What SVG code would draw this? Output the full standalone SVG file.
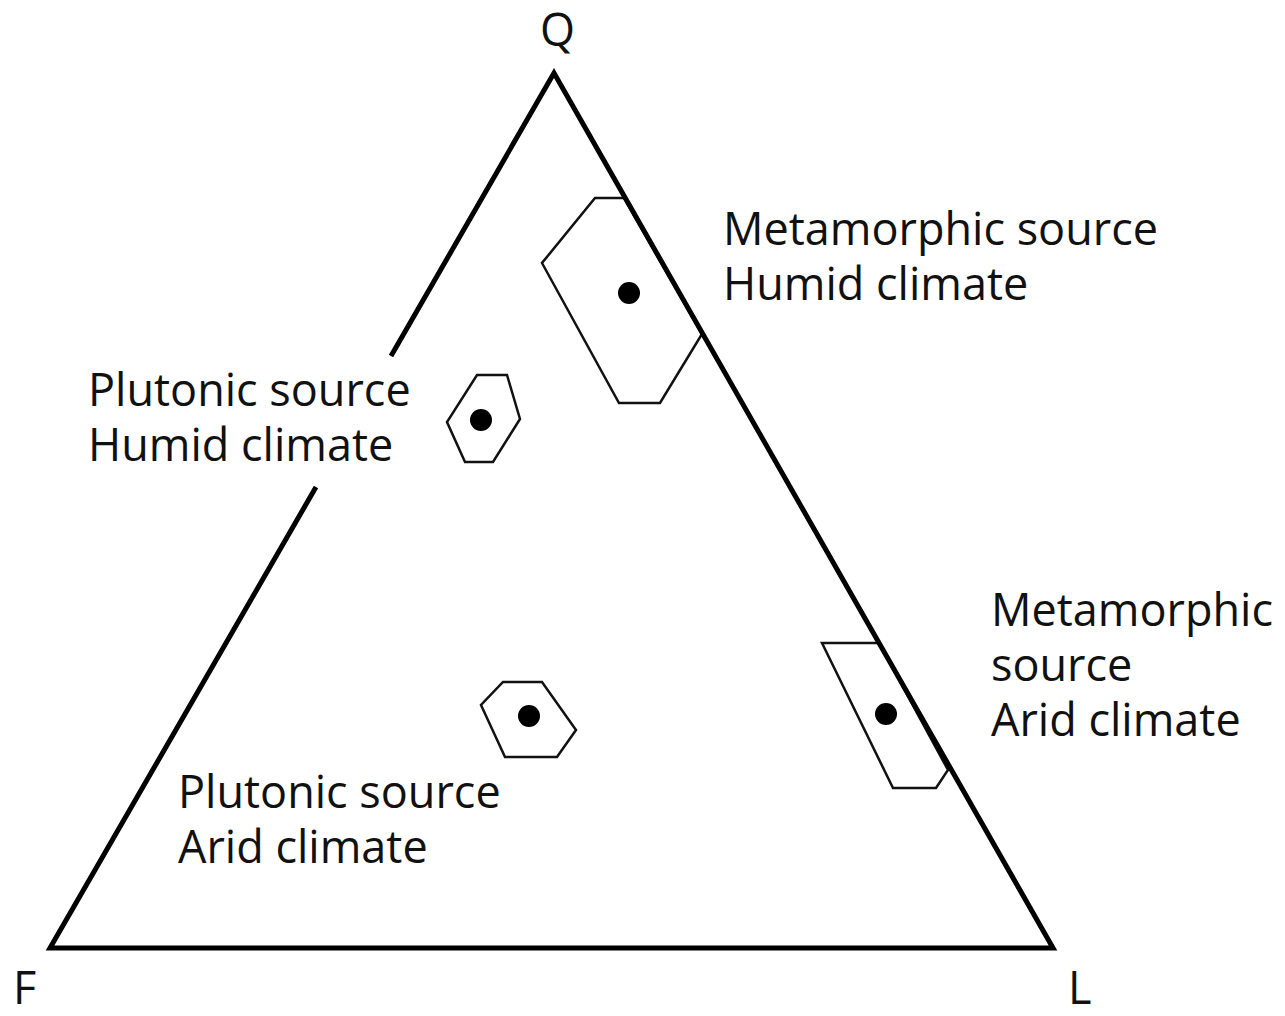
<svg xmlns="http://www.w3.org/2000/svg" width="1285" height="1016" viewBox="0 0 1285 1016">
  <style>
    .lbl { font-family: "Open Sans", "Noto Sans", "Liberation Sans", sans-serif; font-size: 45px; fill: #111; }
    .field { fill: none; stroke: #111; stroke-width: 2.5; stroke-linejoin: miter; }
    .dot { fill: #000; }
    .frame { fill: none; stroke: #000; stroke-width: 5; stroke-linejoin: miter; }
  </style>
  <rect width="1285" height="1016" fill="#fff"/>

  <!-- provenance fields -->
  <g id="meta-humid">
    <polygon class="field" points="595,198 624,198 702,334 660,403 619,403 542,263"/>
    <circle class="dot" cx="629" cy="293" r="11"/>
  </g>
  <g id="pluton-humid">
    <polygon class="field" points="477,375 507,375 520,419 493,462 465,462 447,422"/>
    <circle class="dot" cx="481" cy="420" r="11"/>
  </g>
  <g id="pluton-arid">
    <polygon class="field" points="503,682 542,682 576,730 557,757 505,757 481,705"/>
    <circle class="dot" cx="529" cy="716" r="11"/>
  </g>
  <g id="meta-arid">
    <polygon class="field" points="822,643 879,643 948,770 936,788 893,788"/>
    <circle class="dot" cx="886" cy="714" r="11"/>
  </g>

  <!-- QFL triangle, left side broken for the label -->
  <g id="connectors">
    <path class="frame" d="M391,356 L554,73 L1053,948 L50,948 L316,487"/>
  </g>

  <!-- apex labels -->
  <g id="apex-q"><text class="lbl" x="540" y="46">Q</text></g>
  <g id="apex-f"><text class="lbl" x="13" y="1004">F</text></g>
  <g id="apex-l"><text class="lbl" x="1068" y="1004">L</text></g>

  <!-- field labels -->
  <g id="label-meta-humid">
    <text class="lbl" x="723" y="245">Metamorphic source</text>
    <text class="lbl" x="723" y="300">Humid climate</text>
  </g>
  <g id="label-pluton-humid">
    <text class="lbl" x="88" y="406">Plutonic source</text>
    <text class="lbl" x="88" y="461">Humid climate</text>
  </g>
  <g id="label-meta-arid">
    <text class="lbl" x="991" y="626">Metamorphic</text>
    <text class="lbl" x="991" y="681">source</text>
    <text class="lbl" x="991" y="736">Arid climate</text>
  </g>
  <g id="label-pluton-arid">
    <text class="lbl" x="178" y="808">Plutonic source</text>
    <text class="lbl" x="178" y="863">Arid climate</text>
  </g>
</svg>
